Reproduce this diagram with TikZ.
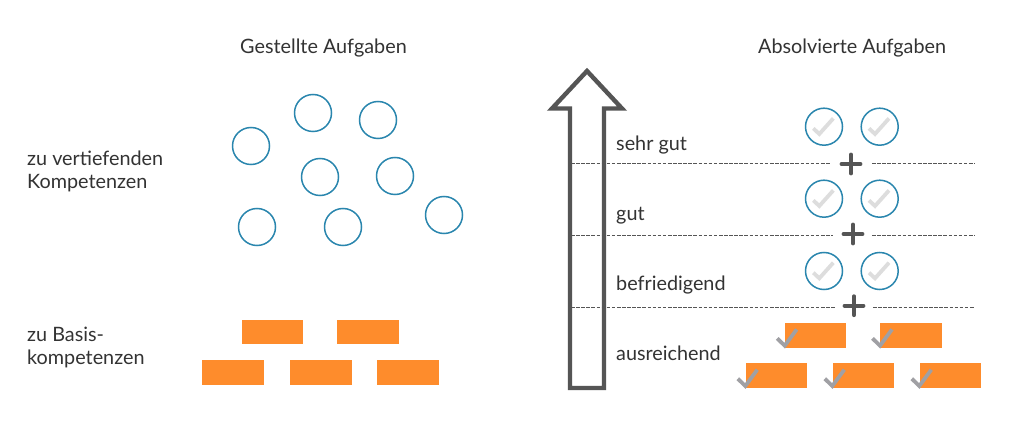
\documentclass[tikz,border=0pt]{standalone}
\usepackage{fontspec}
\setmainfont{Lato}
\definecolor{ringblue}{HTML}{2A86AE}
\definecolor{brick}{HTML}{FE8C2C}
\definecolor{ink}{HTML}{333333}
\definecolor{arrowgrey}{HTML}{555555}
\definecolor{tickfaint}{HTML}{DDDDDD}
\definecolor{tickgrey}{HTML}{A0A0A4}
\tikzset{
  x=1pt,y=-1pt,
  lab/.style={anchor=base west,inner sep=0pt,text=ink,font=\fontsize{19.8}{22}\selectfont},
  ring/.style={circle,draw=ringblue,line width=1.5pt,minimum size=37pt,inner sep=0pt},
  brickbox/.style={rectangle,fill=brick,minimum width=61.5pt,minimum height=24.6pt,inner sep=0pt},
  level/.style={draw=arrowgrey,line width=1pt,dash pattern=on 3.6pt off 1.5pt},
  plusbar/.style={draw=arrowgrey,line width=3.8pt,line cap=round},
  faint/.pic={\draw[tickfaint,line width=3.8pt] (-10.7,1.7) -- (-4.7,7.3) -- (9.3,-8.3);},
  hard/.pic={\draw[tickgrey,line width=3.8pt] (-7.5,15.7) -- (0,23) -- (12,6.7);},
  pics/plusmark/.style={code={\draw[plusbar] (-9.5,0) -- (9.5,0) (0,-9.5) -- (0,9.5);}}
}
\begin{document}
\begin{tikzpicture}
\useasboundingbox (0,0) rectangle (1024,427);
\fill[white] (0,0) rectangle (1024,427);
% titles and labels
\node[lab] (t1) at (240,53.5) {Gestellte Aufgaben};
\node[lab] (t2) at (758,53.5) {Absolvierte Aufgaben};
\node[lab] (l1) at (27,165.5) {zu vertiefenden};
\node[lab] (l2) at (27,188.2) {Kompetenzen};
\node[lab] (l3) at (27,341.5) {zu Basis-};
\node[lab] (l4) at (27,364.2) {kompetenzen};
\node[lab] (g1) at (616,150.8) {sehr gut};
\node[lab] (g2) at (616,220.5) {gut};
\node[lab] (g3) at (616,290.5) {befriedigend};
\node[lab] (g4) at (616,360.2) {ausreichend};
% left circles
\node[ring] (c1) at (313,113) {};
\node[ring] (c2) at (378,120) {};
\node[ring] (c3) at (251,146) {};
\node[ring] (c4) at (320,177) {};
\node[ring] (c5) at (395,176) {};
\node[ring] (c6) at (257,227) {};
\node[ring] (c7) at (343,227) {};
\node[ring] (c8) at (444,215) {};
% left bricks
\node[brickbox,anchor=north west] (b1) at (241.7,319.4) {};
\node[brickbox,anchor=north west] (b2) at (337,319.4) {};
\node[brickbox,anchor=north west] (b3) at (202,359.7) {};
\node[brickbox,anchor=north west] (b4) at (290,359.7) {};
\node[brickbox,anchor=north west] (b5) at (377,359.7) {};
% level lines
\coordinate (a1) at (571,164); \coordinate (m1) at (831,164);
\coordinate (n1) at (872,164); \coordinate (e1) at (975,164);
\coordinate (a2) at (571,235.5); \coordinate (m2) at (833,235.5);
\coordinate (n2) at (872,235.5); \coordinate (e2) at (975,235.5);
\coordinate (a3) at (571,307); \coordinate (m3) at (836,307);
\coordinate (n3) at (873,307); \coordinate (e3) at (975,307);
\path[level] (a1) -- (m1) (n1) -- (e1) (a2) -- (m2) (n2) -- (e2) (a3) -- (m3) (n3) -- (e3);
% big arrow
\draw[arrowgrey,line width=4.4pt,miter limit=10]
  (587,71) -- (552,108.5) -- (570,108.5) -- (570,388) -- (604,388) -- (604,108.5) -- (622,108.5) -- cycle;
% plus signs
\pic at (851,164) {plusmark};
\pic at (853,234) {plusmark};
\pic at (854,305.7) {plusmark};
% right circles
\node[ring] (r1) at (824,126.7) {};
\node[ring] (r2) at (879.7,126.7) {};
\node[ring] (r3) at (824,198.7) {};
\node[ring] (r4) at (879.7,198.7) {};
\node[ring] (r5) at (824,271) {};
\node[ring] (r6) at (879.7,271) {};
\foreach \n in {r1,r2,r3,r4,r5,r6} \pic at (\n) {faint};
% right bricks
\node[brickbox,anchor=north west] (s1) at (784.7,322.7) {};
\node[brickbox,anchor=north west] (s2) at (880,322.7) {};
\node[brickbox,anchor=north west] (s3) at (745.3,363) {};
\node[brickbox,anchor=north west] (s4) at (832.3,363) {};
\node[brickbox,anchor=north west] (s5) at (919.3,363) {};
\foreach \n in {s1,s2,s3,s4,s5} \pic at (\n.north west) {hard};
\end{tikzpicture}
\end{document}
